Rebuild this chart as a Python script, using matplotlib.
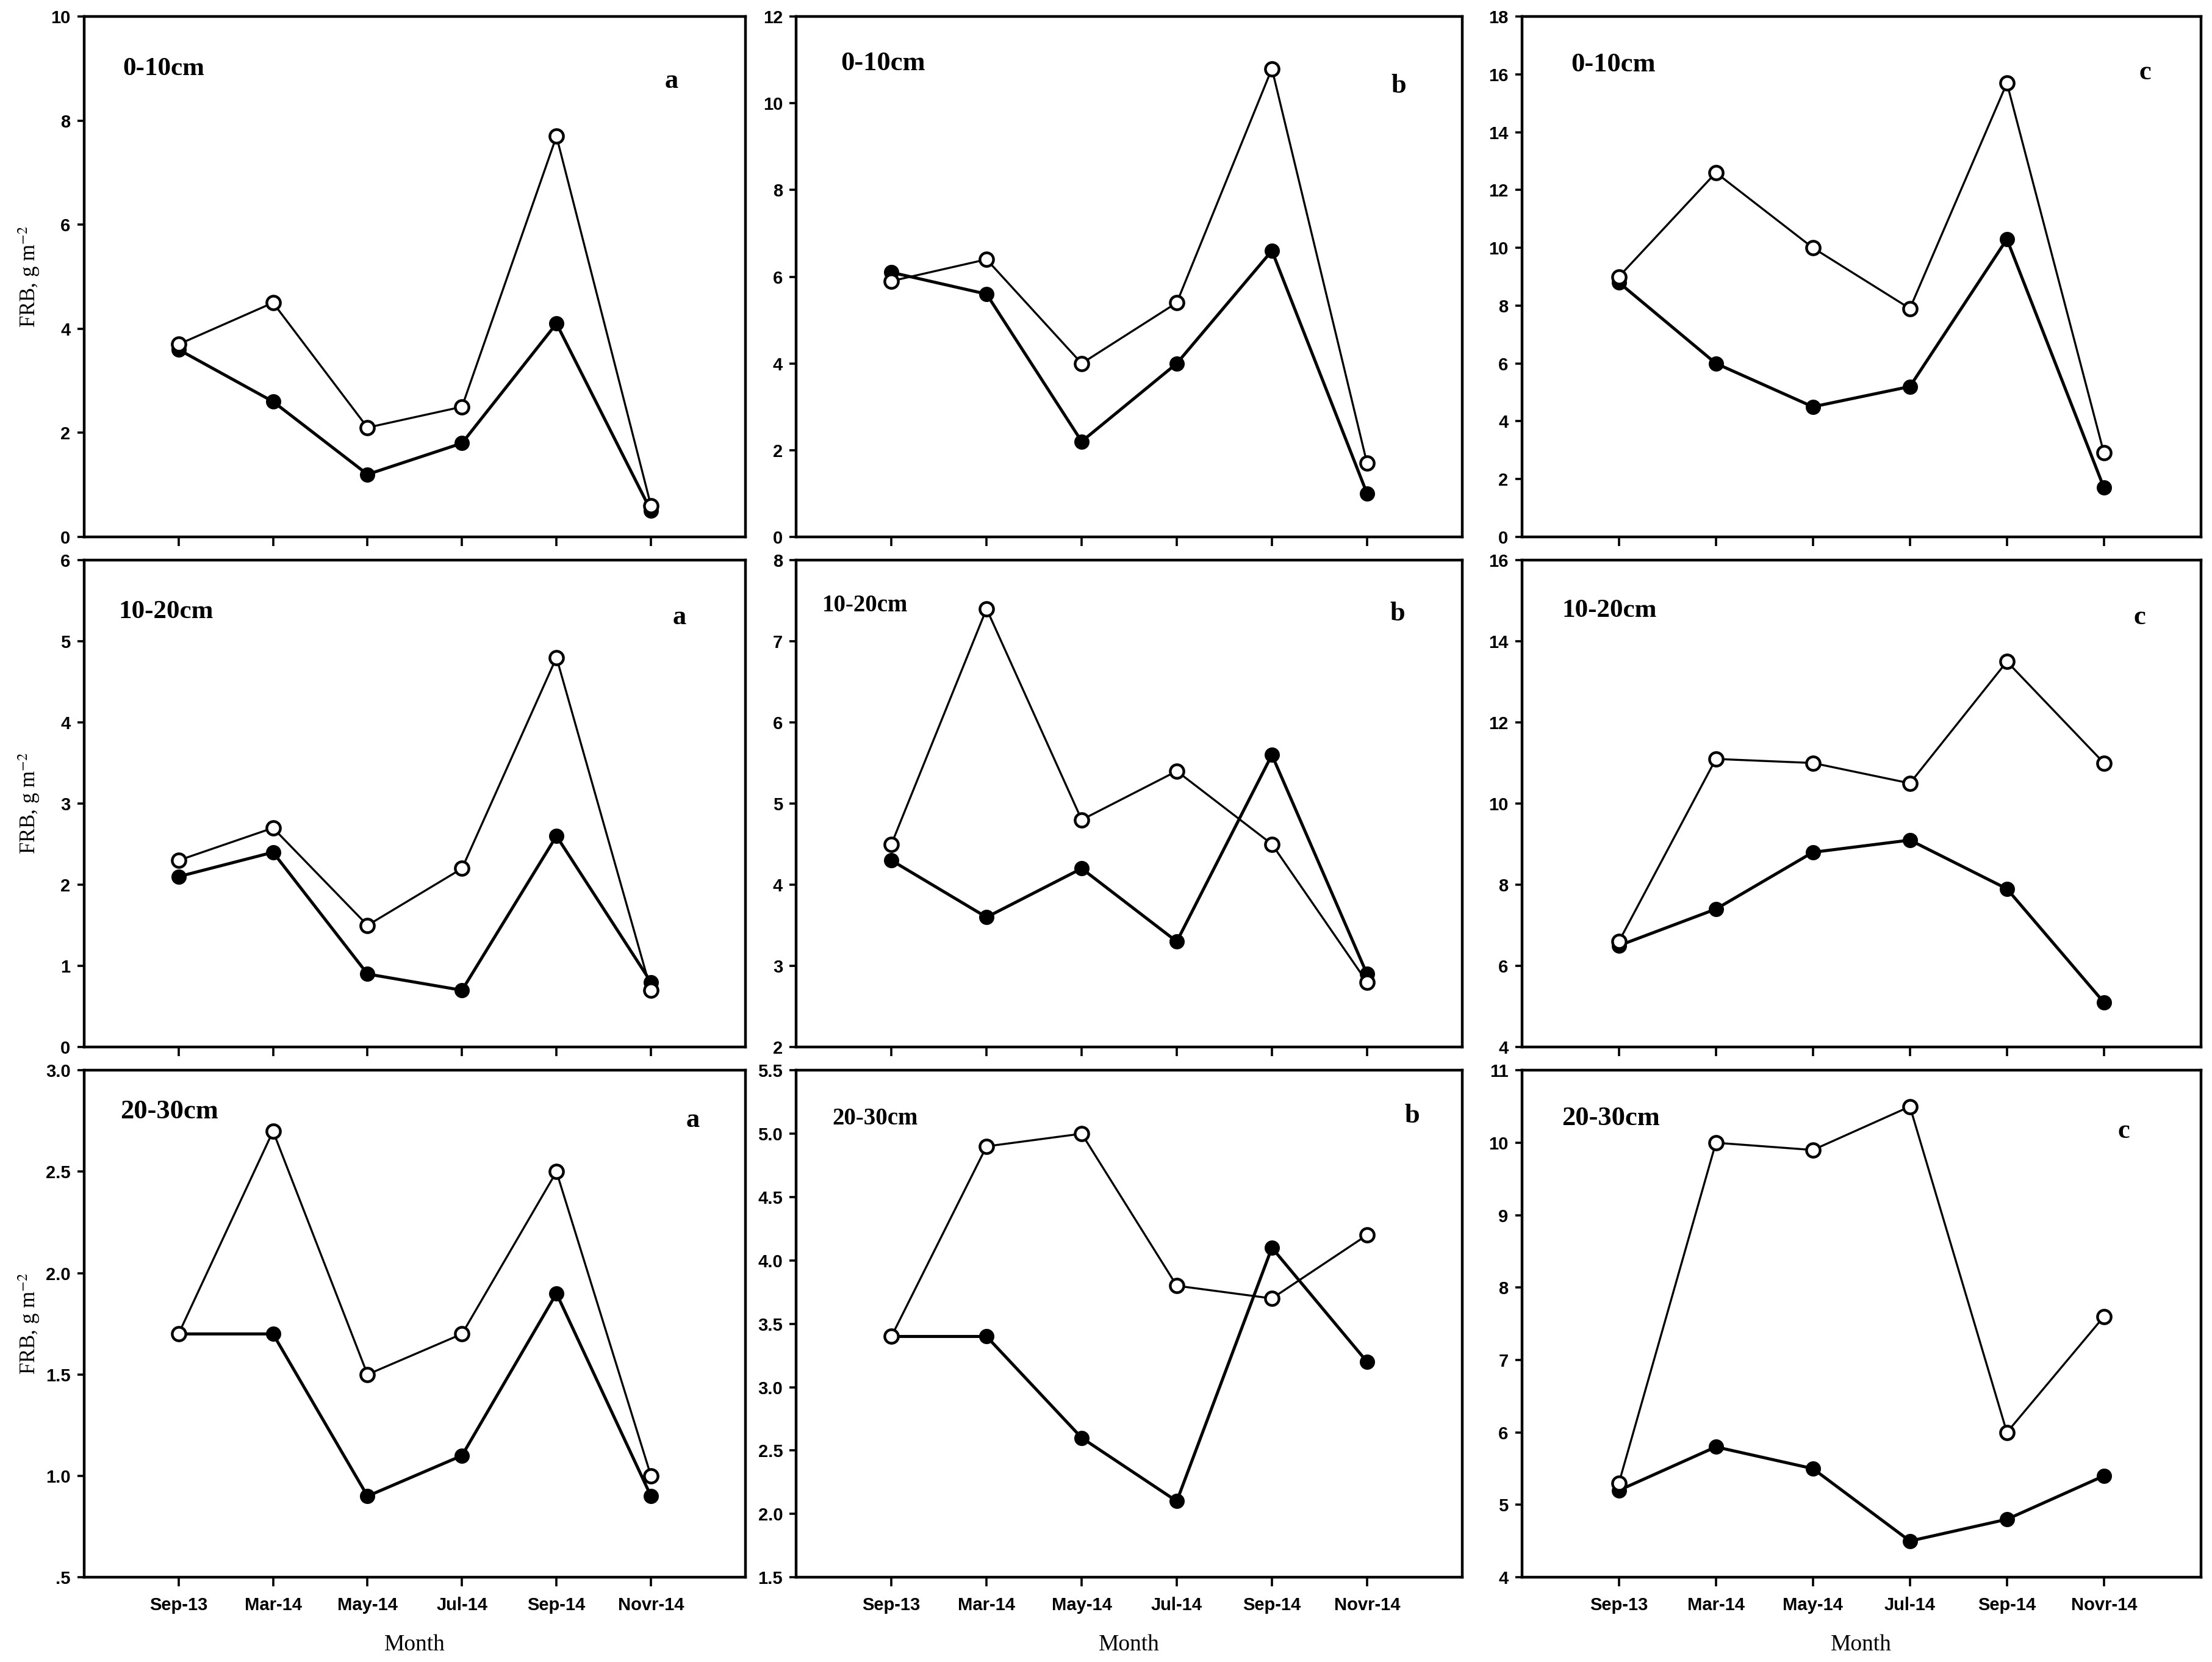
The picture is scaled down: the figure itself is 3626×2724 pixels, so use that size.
import matplotlib
matplotlib.use("Agg")
import matplotlib.pyplot as plt
from matplotlib import font_manager
from matplotlib.ticker import FixedLocator, FixedFormatter

# ---------------- data ----------------
months = ["Sep-13", "Mar-14", "May-14", "Jul-14", "Sep-14", "Novr-14"]
depths = ["0-10cm", "10-20cm", "20-30cm"]
panel_letters = ["a", "b", "c"]

# open-circle series (row, column)
open_0_10_a = [3.7, 4.5, 2.1, 2.5, 7.7, 0.6]
open_0_10_b = [5.9, 6.4, 4.0, 5.4, 10.8, 1.7]
open_0_10_c = [9.0, 12.6, 10.0, 7.9, 15.7, 2.9]
open_10_20_a = [2.3, 2.7, 1.5, 2.2, 4.8, 0.7]
open_10_20_b = [4.5, 7.4, 4.8, 5.4, 4.5, 2.8]
open_10_20_c = [6.6, 11.1, 11.0, 10.5, 13.5, 11.0]
open_20_30_a = [1.7, 2.7, 1.5, 1.7, 2.5, 1.0]
open_20_30_b = [3.4, 4.9, 5.0, 3.8, 3.7, 4.2]
open_20_30_c = [5.3, 10.0, 9.9, 10.5, 6.0, 7.6]

# filled-circle series
filled_0_10_a = [3.6, 2.6, 1.2, 1.8, 4.1, 0.5]
filled_0_10_b = [6.1, 5.6, 2.2, 4.0, 6.6, 1.0]
filled_0_10_c = [8.8, 6.0, 4.5, 5.2, 10.3, 1.7]
filled_10_20_a = [2.1, 2.4, 0.9, 0.7, 2.6, 0.8]
filled_10_20_b = [4.3, 3.6, 4.2, 3.3, 5.6, 2.9]
filled_10_20_c = [6.5, 7.4, 8.8, 9.1, 7.9, 5.1]
filled_20_30_a = [1.7, 1.7, 0.9, 1.1, 1.9, 0.9]
filled_20_30_b = [3.4, 3.4, 2.6, 2.1, 4.1, 3.2]
filled_20_30_c = [5.2, 5.8, 5.5, 4.5, 4.8, 5.4]

# y-axis ticks and labels per panel
yticks_0_10_a = [0, 2, 4, 6, 8, 10]
yticks_0_10_b = [0, 2, 4, 6, 8, 10, 12]
yticks_0_10_c = [0, 2, 4, 6, 8, 10, 12, 14, 16, 18]
yticks_10_20_a = [0, 1, 2, 3, 4, 5, 6]
yticks_10_20_b = [2, 3, 4, 5, 6, 7, 8]
yticks_10_20_c = [4, 6, 8, 10, 12, 14, 16]
yticks_20_30_a = [0.5, 1.0, 1.5, 2.0, 2.5, 3.0]
yticks_20_30_b = [1.5, 2.0, 2.5, 3.0, 3.5, 4.0, 4.5, 5.0, 5.5]
yticks_20_30_c = [4, 5, 6, 7, 8, 9, 10, 11]
ylabels_20_30_a = [".5", "1.0", "1.5", "2.0", "2.5", "3.0"]
ylabels_20_30_b = ["1.5", "2.0", "2.5", "3.0", "3.5", "4.0", "4.5", "5.0", "5.5"]

open_series = [[open_0_10_a, open_0_10_b, open_0_10_c],
               [open_10_20_a, open_10_20_b, open_10_20_c],
               [open_20_30_a, open_20_30_b, open_20_30_c]]
filled_series = [[filled_0_10_a, filled_0_10_b, filled_0_10_c],
                 [filled_10_20_a, filled_10_20_b, filled_10_20_c],
                 [filled_20_30_a, filled_20_30_b, filled_20_30_c]]
yticks_all = [[yticks_0_10_a, yticks_0_10_b, yticks_0_10_c],
              [yticks_10_20_a, yticks_10_20_b, yticks_10_20_c],
              [yticks_20_30_a, yticks_20_30_b, yticks_20_30_c]]
ylabels_all = [[None, None, None],
               [None, None, None],
               [ylabels_20_30_a, ylabels_20_30_b, None]]

# ---------------- fonts ----------------
avail = {f.name for f in font_manager.fontManager.ttflist}
tick_family = ["Liberation Sans Narrow"] if "Liberation Sans Narrow" in avail else ["Liberation Sans"]
tick_size = 12 if "Liberation Sans Narrow" in avail else 10.5
serif = ["Liberation Serif", "DejaVu Serif"]
plt.rcParams["mathtext.fontset"] = "stix"

# ---------------- layout ----------------
W, H = 3626, 2724
DPI = 200
fig = plt.figure(figsize=(W / DPI, H / DPI), dpi=DPI)

col_lr = [(0.038, 0.337), (0.360, 0.661), (0.688, 0.995)]
row_bt = [(0.677, 0.990), (0.370, 0.663), (0.051, 0.356)]

depth_pos = [[(0.059, 0.90), (0.067, 0.91), (0.072, 0.908)],
             [(0.052, 0.894), (0.039, 0.907), (0.059, 0.896)],
             [(0.055, 0.918), (0.054, 0.905), (0.059, 0.905)]]
depth_size = [[15.5, 16, 16],
              [15.5, 14, 15.5],
              [16, 14, 16]]
letter_pos = [[(0.888, 0.876), (0.905, 0.867), (0.918, 0.892)],
              [(0.90, 0.882), (0.903, 0.89), (0.91, 0.882)],
              [(0.92, 0.902), (0.925, 0.91), (0.886, 0.88)]]

x = list(range(len(months)))

for r in range(3):
    for c in range(3):
        l, rr = col_lr[c]
        b, t = row_bt[r]
        ax = fig.add_axes([l, b, rr - l, t - b])
        ax.plot(x, filled_series[r][c], color="black", lw=1.8, marker="o",
                ms=8, mfc="black", mec="black", zorder=3)
        ax.plot(x, open_series[r][c], color="black", lw=1.2, marker="o",
                ms=8, mfc="white", mec="black", mew=1.6, zorder=4)
        yt = yticks_all[r][c]
        ax.set_ylim(yt[0], yt[-1])
        ax.set_xlim(-1, 6)
        ax.yaxis.set_major_locator(FixedLocator(yt))
        if ylabels_all[r][c] is not None:
            ax.yaxis.set_major_formatter(FixedFormatter(ylabels_all[r][c]))
        else:
            ax.yaxis.set_major_formatter(FixedFormatter([f"{v:g}" for v in yt]))
        ax.set_xticks(x)
        if r == 2:
            ax.set_xticklabels(months)
            ax.set_xlabel("Month", family=serif, fontsize=13.5, labelpad=12)
        else:
            ax.set_xticklabels([])
        for s in ax.spines.values():
            s.set_linewidth(1.6)
        ax.tick_params(axis="x", direction="out", length=5.5, width=1.3, pad=6)
        ax.tick_params(axis="y", direction="out", length=4, width=1.3, pad=4)
        for lab in ax.get_xticklabels() + ax.get_yticklabels():
            lab.set_family(tick_family)
            lab.set_fontsize(tick_size)
            lab.set_fontweight("bold")
        dx, dy = depth_pos[r][c]
        ax.text(dx, dy, depths[r], transform=ax.transAxes, ha="left", va="center",
                family=serif, fontsize=depth_size[r][c], fontweight="bold")
        lx, ly = letter_pos[r][c]
        ax.text(lx, ly, panel_letters[c], transform=ax.transAxes, ha="center",
                va="center", family=serif, fontsize=16, fontweight="bold")
        if c == 0:
            fig.text(0.013, (b + t) / 2, r"FRB, g m$^{-2}$", rotation=90,
                     ha="center", va="center", family=serif, fontsize=12.5)

fig.savefig("out.png", dpi=DPI)
